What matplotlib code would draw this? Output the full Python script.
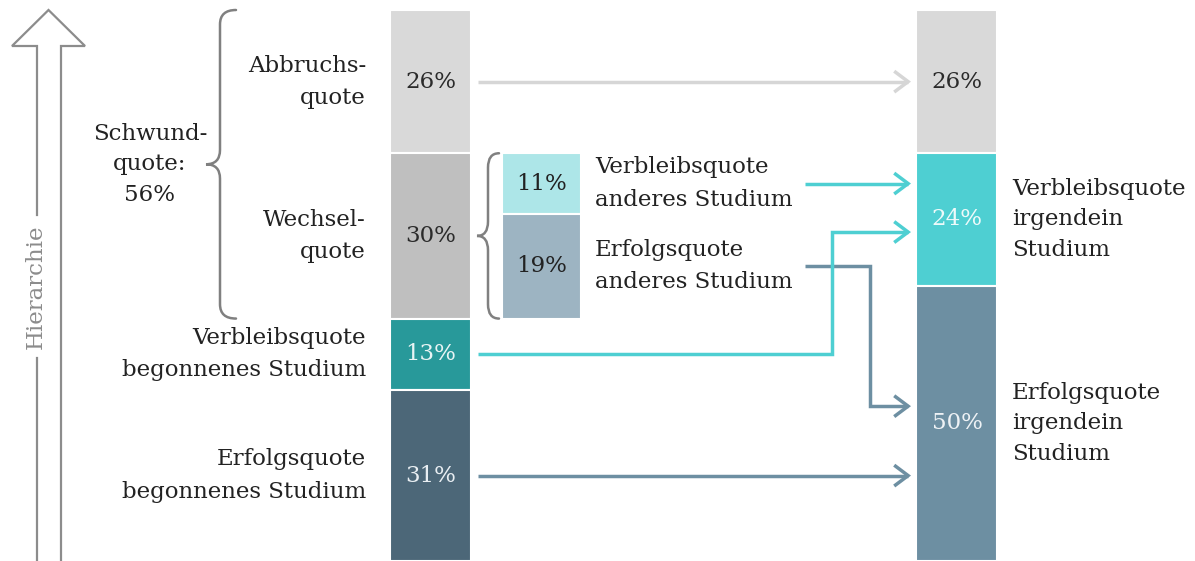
import matplotlib.pyplot as plt
from matplotlib.path import Path
from matplotlib.patches import FancyArrowPatch, PathPatch
import numpy as np

plt.rcParams['font.family'] = ['DejaVu Serif']

# Anteile in Prozent, von oben nach unten gestapelt
links_werte = [26, 30, 13, 31]
links_labels = ["Abbruchs-\nquote", "Wechsel-\nquote",
                "Verbleibsquote\nbegonnenes Studium", "Erfolgsquote\nbegonnenes Studium"]
links_farben = ["#d9d9d9", "#bfbfbf", "#28999a", "#4c6778"]
links_textfarben = ["#2b2b2b", "#2b2b2b", "#e8f4f4", "#e8eef2"]

mitte_werte = [11, 19]
mitte_labels = ["Verbleibsquote\nanderes Studium", "Erfolgsquote\nanderes Studium"]
mitte_farben = ["#ade6e8", "#9db4c2"]

rechts_werte = [26, 24, 50]
rechts_labels = ["", "Verbleibsquote\nirgendein\nStudium", "Erfolgsquote\nirgendein\nStudium"]
rechts_farben = ["#d9d9d9", "#4ecfd2", "#6d8fa2"]
rechts_textfarben = ["#2b2b2b", "#eefafa", "#eef2f5"]

schwund_label = "Schwund-\nquote:\n56%"
hierarchie_label = "Hierarchie"

# Einmündung der Pfeile in die rechte Säule (Prozent-Höhe)
ziel_verbleib_beg = 40.3
ziel_erfolg_and = 71.9

FS = 16.5
LS = 1.6
c_dunkel = "#222222"
c_grau = "#8c8c8c"
c_cyan = "#4ecfd2"
c_slate = "#6d8fa2"

fig = plt.figure(figsize=(11.95, 5.61), dpi=100)
ax = fig.add_axes([0, 0, 1, 1])
ax.set_xlim(0, 1195)
ax.set_ylim(100, -10 / 5.51)
ax.axis("off")

x_l, x_m, x_r = 430.5, 541.5, 957
w_bar = 81


def saeule(x, werte, farben, start=0, width=w_bar):
    unten = start + np.concatenate([[0], np.cumsum(werte)[:-1]])
    ax.bar(x, werte, bottom=unten, width=width, color=farben,
           edgecolor="white", linewidth=1.5)
    return unten + np.array(werte) / 2


mitte_l = saeule(x_l, links_werte, links_farben)
mitte_m = saeule(x_m, mitte_werte, mitte_farben, start=links_werte[0], width=79)
mitte_r = saeule(x_r, rechts_werte, rechts_farben)

for y, v, c in zip(mitte_l, links_werte, links_textfarben):
    ax.text(x_l, y, f"{v}%", ha="center", va="center", fontsize=FS, color=c)
for y, v in zip(mitte_m, mitte_werte):
    ax.text(x_m, y, f"{v}%", ha="center", va="center", fontsize=FS, color="#222222")
for y, v, c in zip(mitte_r, rechts_werte, rechts_textfarben):
    ax.text(x_r, y, f"{v}%", ha="center", va="center", fontsize=FS, color=c)

for y, s in zip(mitte_l, links_labels):
    ax.text(366, y, s, ha="right", va="center", fontsize=FS, color=c_dunkel,
            multialignment="right", linespacing=LS)
for y, s in zip(mitte_m, mitte_labels):
    ax.text(595, y, s, ha="left", va="center", fontsize=FS, color=c_dunkel,
            linespacing=LS)
for y, s in zip(mitte_r, rechts_labels):
    if s:
        ax.text(1012, y, s, ha="left", va="center", fontsize=FS, color=c_dunkel,
                linespacing=LS - 0.1)

schwund = links_werte[0] + links_werte[1]
ax.text(150, schwund / 2, schwund_label, ha="center", va="center", fontsize=FS,
        color=c_dunkel, multialignment="center", linespacing=LS - 0.1)


def klammer(x_ende, x_ruecken, x_spitze, y0, y1, r=2.6):
    ym = (y0 + y1) / 2
    verts = [(x_ende, y0), (x_ruecken, y0), (x_ruecken, y0 + r),
             (x_ruecken, ym - r), (x_ruecken, ym), (x_spitze, ym),
             (x_ruecken, ym), (x_ruecken, ym + r),
             (x_ruecken, y1 - r), (x_ruecken, y1), (x_ende, y1)]
    codes = [Path.MOVETO, Path.CURVE3, Path.CURVE3,
             Path.LINETO, Path.CURVE3, Path.CURVE3,
             Path.CURVE3, Path.CURVE3,
             Path.LINETO, Path.CURVE3, Path.CURVE3]
    ax.add_patch(PathPatch(Path(verts, codes), fill=False, edgecolor="#808080",
                           linewidth=1.8, capstyle="round"))


klammer(236, 220, 206, 0, schwund)
klammer(499, 488, 477, links_werte[0], schwund)


def pfeil(punkte, farbe):
    ax.add_patch(FancyArrowPatch(path=Path(punkte), arrowstyle="->,head_length=10,head_width=7.5",
                                 color=farbe, linewidth=2.5, shrinkA=0, shrinkB=0,
                                 mutation_scale=1, joinstyle="miter", capstyle="butt"))


x_start, x_ziel = 478, 911
pfeil([(x_start, mitte_l[0]), (x_ziel, mitte_l[0])], "#d6d6d6")
pfeil([(x_start, mitte_l[3]), (x_ziel, mitte_l[3])], c_slate)
pfeil([(805, mitte_m[1]), (870, mitte_m[1]), (870, ziel_erfolg_and), (x_ziel, ziel_erfolg_and)], c_slate)
pfeil([(805, mitte_m[0]), (x_ziel, mitte_m[0])], c_cyan)
pfeil([(x_start, mitte_l[2]), (832, mitte_l[2]), (832, ziel_verbleib_beg), (x_ziel, ziel_verbleib_beg)], c_cyan)

# Hierarchie-Pfeil als Umriss
p = lambda px: (px - 10) / 5.51
kopf = p(46)
ax.plot([37, 37, 12, 48.5, 85, 61, 61], [p(215), kopf, kopf, 0, kopf, kopf, 102],
        color=c_grau, linewidth=1.6, solid_joinstyle="miter", clip_on=False)
ax.plot([37, 37], [p(358), 102], color=c_grau, linewidth=1.6, clip_on=False)
ax.text(36, (p(215) + p(358)) / 2, hierarchie_label, rotation=90, ha="center", va="center",
        fontsize=FS, color=c_grau)

fig.savefig("out.png", dpi=100)
